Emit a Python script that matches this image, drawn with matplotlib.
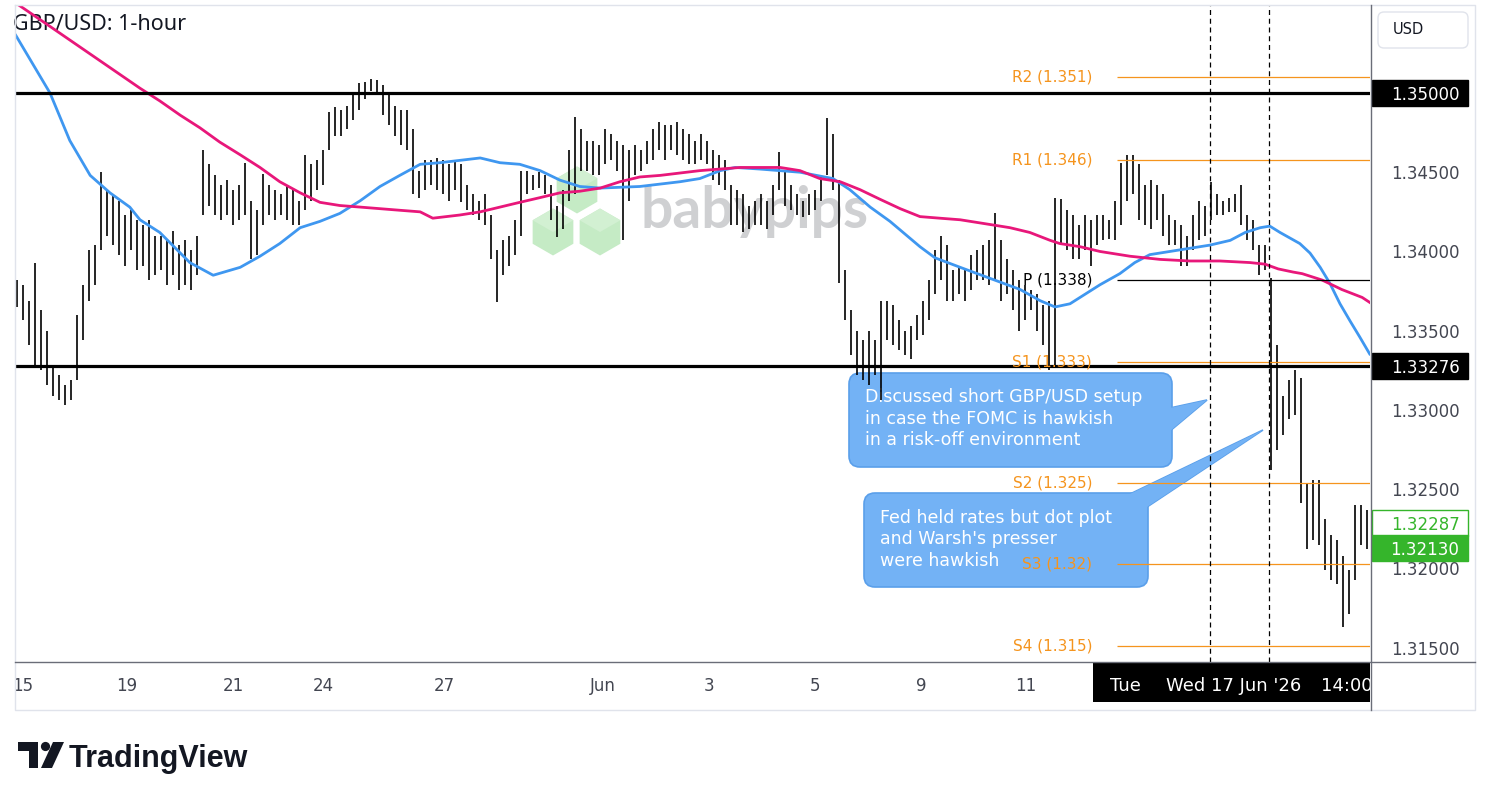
import matplotlib
matplotlib.use("Agg")
import matplotlib.pyplot as plt
import numpy as np
from matplotlib.patches import Rectangle, FancyBboxPatch, Polygon, Circle

# ---------------- data (bar prices in pips above 1.30000) ----------------
BASE = 1.30
bar_high = [382, 379, 369, 393, 363, 350, 328, 322, 316, 319, 360, 379, 401, 404, 450, 439, 436, 432, 423, 426,
            420, 417, 420, 410, 410, 407, 413, 404, 407, 401, 410, 464, 455, 448, 442, 445, 439, 442, 456, 432,
            426, 449, 442, 439, 436, 442, 439, 432, 461, 455, 458, 464, 488, 491, 489, 492, 499, 506, 507, 509,
            508, 505, 499, 492, 489, 489, 477, 451, 458, 458, 459, 458, 455, 458, 455, 442, 436, 432, 436, 423,
            401, 407, 410, 420, 451, 451, 448, 450, 448, 442, 429, 439, 464, 485, 477, 470, 470, 467, 477, 474,
            470, 467, 464, 467, 464, 470, 477, 482, 480, 480, 482, 477, 474, 470, 474, 470, 464, 461, 458, 442,
            439, 436, 429, 432, 436, 432, 442, 463, 451, 442, 436, 432, 436, 439, 448, 484, 474, 445, 388, 363,
            350, 344, 350, 344, 369, 369, 366, 357, 350, 353, 360, 369, 382, 401, 410, 404, 388, 391, 388, 398,
            401, 404, 407, 424, 407, 395, 388, 382, 379, 376, 373, 366, 369, 434, 433, 426, 423, 417, 423, 420,
            423, 423, 420, 432, 456, 461, 461, 455, 442, 445, 442, 436, 423, 420, 417, 410, 423, 432, 429, 444,
            436, 432, 434, 436, 442, 423, 420, 404, 404, 383, 341, 309, 319, 325, 320, 253, 256, 256, 231, 221,
            218, 208, 199, 240, 240, 237]
bar_low = [365, 357, 341, 328, 325, 316, 309, 306, 303, 306, 319, 344, 369, 379, 401, 410, 404, 398, 391, 401,
           388, 391, 382, 385, 388, 379, 385, 376, 379, 376, 385, 423, 429, 423, 420, 423, 417, 420, 423, 395,
           398, 417, 423, 420, 423, 420, 417, 417, 426, 432, 439, 442, 464, 473, 473, 477, 483, 489, 496, 501,
           499, 486, 480, 473, 467, 464, 436, 434, 439, 442, 439, 436, 432, 439, 431, 426, 423, 420, 417, 395,
           368, 385, 391, 398, 410, 436, 439, 440, 436, 420, 409, 414, 432, 436, 451, 451, 448, 448, 455, 458,
           451, 407, 432, 448, 451, 455, 458, 464, 458, 464, 461, 458, 455, 455, 458, 455, 445, 442, 439, 417,
           417, 412, 414, 417, 417, 414, 423, 439, 429, 426, 423, 422, 423, 426, 432, 448, 439, 380, 357, 335,
           322, 319, 316, 322, 306, 344, 341, 338, 335, 332, 344, 347, 357, 373, 382, 369, 369, 373, 369, 376,
           382, 382, 379, 382, 369, 373, 363, 350, 357, 363, 350, 341, 325, 328, 404, 401, 395, 395, 401, 391,
           404, 407, 408, 407, 417, 432, 436, 420, 417, 414, 420, 410, 404, 404, 391, 391, 401, 407, 410, 420,
           423, 423, 425, 425, 417, 407, 401, 385, 388, 262, 275, 284, 294, 297, 241, 212, 218, 215, 199, 193,
           190, 163, 171, 193, 215, 212]

# moving averages, sampled (bar position, pips above 1.30000)
ma100_pos = [-0.3, 5.5, 8.8, 12.2, 15.5, 18.8, 20.5, 23.8, 28.8, 32.7, 37.2, 40.5, 43.8, 47.2, 50.5, 53.8, 57.2,
             60.5, 63.8, 67.2, 70.5, 77.2, 80.5, 83.8, 87.2, 90.5, 93.8, 97.2, 103.8, 110.5, 113.8, 117.2,
             119.7, 123.8, 130.5, 136.0, 138.8, 142.2, 145.5, 150.5, 153.0, 157.2, 162.2, 167.2, 170.5,
             173.0, 175.5, 180.5, 183.8, 186.3, 188.8, 193.8, 198.8, 202.2, 204.7, 207.2, 208.8, 210.5,
             213.8, 215.5, 217.2, 218.8, 220.5, 222.2, 223.8, 225.5]
ma100_pips = [537, 500, 470, 448, 437, 428, 420, 412, 393, 385, 390, 397, 405, 415, 419, 424, 432,
              441, 448, 455, 456, 459, 456, 455, 451, 445, 441, 440, 441, 444, 446, 451,
              453, 452, 450, 446, 439, 428, 419, 403, 396, 390, 383, 376, 369,
              365, 367, 379, 386, 393, 398, 401, 404, 407, 412, 415, 416, 412,
              405, 399, 390, 380, 367, 356, 346, 335]
ma200_pos = [-0.3, 5.5, 10.5, 15.5, 20.5, 23.8, 27.2, 30.5, 33.8, 37.2, 40.5, 43.8, 47.2, 50.5, 53.8,
             57.2, 60.5, 63.8, 67.2, 69.3, 73.8, 77.2, 80.5, 83.8, 87.2, 90.5, 93.8, 97.2, 100.5, 103.8,
             107.2, 113.8, 120.5, 127.2, 130.5, 133.8, 137.2, 140.5, 143.8, 147.2, 150.5, 153.8, 157.2,
             162.2, 165.5, 168.8, 172.2, 173.8, 177.2, 180.5, 185.5, 190.5, 195.5, 200.5, 205.5, 208.0,
             210.2, 212.7, 214.2, 217.5, 220.8, 224.2, 225.8]
ma200_pips = [557, 542, 529, 516, 503, 495, 486, 478, 469, 461, 453, 444, 437, 431, 429,
              428, 427, 426, 425, 421, 423, 425, 428, 431, 434, 437, 438, 440, 444, 447,
              448, 451, 453, 453, 451, 446, 444, 439, 433, 427, 422, 421, 420,
              417, 415, 412, 407, 405, 403, 400, 397, 395, 394, 394, 393, 392,
              389, 387, 386, 382, 376, 371, 367]

sr_levels = [1.35000, 1.33276]
pivot_labels = ["R2 (1.351)", "R1 (1.346)", "P (1.338)", "S1 (1.333)", "S2 (1.325)", "S3 (1.32)", "S4 (1.315)"]
pivot_values = [1.3510, 1.3458, 1.3382, 1.3330, 1.3254, 1.3203, 1.3151]
pivot_start = 183.3
price_ticks = [1.345, 1.340, 1.335, 1.330, 1.325, 1.320, 1.315]
date_labels = ["15", "19", "21", "24", "27", "Jun", "3", "5", "9", "11"]
date_pos = [0.9, 18.3, 36.0, 51.0, 71.3, 97.7, 115.3, 133.0, 150.7, 168.2]
cross_labels = ["Tue", "Wed 17 Jun '26", "14:00"]
cross_pos = [184.7, 202.7, 221.6]
event_pos = [198.8, 208.7]
last_price = 1.32287
last_low = 1.32130

# ---------------- figure ----------------
W, H = 1491, 800
fig = plt.figure(figsize=(W / 100, H / 100), dpi=100, facecolor="white")
ax = fig.add_axes([15 / W, (H - 662) / H, (1370 - 15) / W, (662 - 5) / H])
ov = fig.add_axes([0, 0, 1, 1], zorder=5)
ov.set_xlim(0, W)
ov.set_ylim(H, 0)
ov.axis("off")
ov.patch.set_alpha(0)
P = ov.transData  # pixel coordinates

ax.set_xlim(-0.33, 225.5)
ax.set_ylim(1.31410, 1.35555)
ax.set_xticks([])
ax.set_yticks([])
for s in ax.spines.values():
    s.set_visible(False)
ax.set_facecolor("white")

idx = np.arange(len(bar_high))
highs = BASE + np.array(bar_high) / 10000.0
lows = BASE + np.array(bar_low) / 10000.0

# title (under the moving averages, like the reference)
ax.text(13, 25, "GBP/USD: 1-hour", transform=P, ha="left", va="center", fontsize=15.5,
        family=["Noto Sans", "DejaVu Sans"], color="#131722", zorder=0.4, clip_on=False)

# watermark (babypips)
cubes = [(577, 190), (553, 232), (600, 232)]
r = 23.5
for cx, cy in cubes:
    hexv = [(cx, cy - r), (cx + 0.866 * r, cy - 0.5 * r), (cx + 0.866 * r, cy + 0.5 * r),
            (cx, cy + r), (cx - 0.866 * r, cy + 0.5 * r), (cx - 0.866 * r, cy - 0.5 * r)]
    ax.add_patch(Polygon(hexv, closed=True, transform=P, fc="#c5ebc5", ec="none", zorder=0.5, clip_on=False))
    topv = [(cx, cy - r), (cx + 0.866 * r, cy - 0.5 * r), (cx, cy), (cx - 0.866 * r, cy - 0.5 * r)]
    ax.add_patch(Polygon(topv, closed=True, transform=P, fc="#d2f0d2", ec="none", zorder=0.6, clip_on=False))
ax.text(640, 228, "babypips", transform=P, fontsize=41, fontweight="bold", family=["Lato", "DejaVu Sans"],
        color="#cfd0d2", va="baseline", ha="left", zorder=0.7)

# callouts
blue_fc = "#73b2f5"
blue_ec = "#5a9fea"
def callout(x, y, w, h, tri, lines, tx, ty0, dy):
    ax.add_patch(Polygon(tri, closed=True, transform=P, fc=blue_fc, ec=blue_ec, lw=1.2, zorder=1.5, clip_on=False))
    ax.add_patch(FancyBboxPatch((x, y), w, h, boxstyle="round,pad=0,rounding_size=11", transform=P,
                                fc=blue_fc, ec=blue_ec, lw=1.2, zorder=1.55, clip_on=False))
    ax.add_patch(Polygon(tri, closed=True, transform=P, fc=blue_fc, ec="none", zorder=1.6, clip_on=False))
    for k, line in enumerate(lines):
        ax.text(tx, ty0 + k * dy, line, transform=P, color="white", fontsize=12.5, va="center", ha="left",
                zorder=1.7)

callout(849, 373, 323, 94, [(1170, 408), (1207, 400), (1170, 431)],
        ["Discussed short GBP/USD setup", "in case the FOMC is hawkish", "in a risk-off environment"],
        865, 397, 21.5)
callout(864, 493, 284, 94, [(1130, 494), (1263, 430), (1147, 507)],
        ["Fed held rates but dot plot", "and Warsh's presser", "were hawkish"],
        880, 518, 21.5)

# bars
ax.vlines(idx, lows, highs, color="black", linewidth=1.2, zorder=2)

# moving averages
ax.plot(ma100_pos, BASE + np.array(ma100_pips) / 10000.0, color="#3f97f0", lw=2.0, zorder=3,
        solid_joinstyle="round", solid_capstyle="round")
ax.plot(ma200_pos, BASE + np.array(ma200_pips) / 10000.0, color="#e8177a", lw=2.0, zorder=3,
        solid_joinstyle="round", solid_capstyle="round")

# pivot levels
orange = "#f5941d"
for lab, val in zip(pivot_labels, pivot_values):
    col = "black" if lab.startswith("P ") else orange
    ax.hlines(val, pivot_start, 225.5, colors=col, lw=0.9, zorder=3.5)
    ax.text(179.2, val, lab, ha="right", va="center", color=col, fontsize=11, zorder=7)

# support / resistance
for lv in sr_levels:
    ax.axhline(lv, color="black", lw=2.3, zorder=4)

# event lines
for ev in event_pos:
    ax.axvline(ev, color="black", lw=0.9, ls=(0, (4, 3)), zorder=4)

# ---------------- price scale ----------------
yt = ax.get_yaxis_transform()
for t in price_ticks:
    ax.text(1.0406, t, f"{t:.5f}", transform=yt, ha="center", va="center_baseline", fontsize=12,
            color="#434651", clip_on=False)

def price_box(price, fc, ec, tc):
    h = 0.00164
    ax.add_patch(Rectangle((1.0015, price - h / 2), 0.0708, h, transform=yt, fc=fc, ec=ec, lw=1,
                           clip_on=False, zorder=10))
    ax.text(1.0406, price, f"{price:.5f}", transform=yt, ha="center", va="center_baseline", color=tc,
            fontsize=12, zorder=11, clip_on=False)

for lv in sr_levels:
    price_box(lv, "black", "black", "white")
green = "#35b52b"
price_box(last_price, "white", green, green)
price_box(last_low, green, green, "white")

# ---------------- time scale ----------------
xt = ax.get_xaxis_transform()
for lab, pos in zip(date_labels, date_pos):
    ax.text(pos, -0.0365, lab, transform=xt, ha="center", va="center", fontsize=12, color="#434651",
            zorder=3, clip_on=False)
ax.add_patch(Rectangle((179.3, -0.061), 225.5 - 179.3, 0.061, transform=xt, fc="black", ec="none",
                       clip_on=False, zorder=5))
for lab, pos in zip(cross_labels, cross_pos):
    ax.text(pos, -0.0365, lab, transform=xt, ha="center", va="center", fontsize=13, color="white",
            zorder=6, clip_on=False)

# ---------------- frame & chrome ----------------
# masks so that time labels are cut at the pane edges
ov.add_patch(Rectangle((0, 663), 14.5, 46, fc="white", ec="none"))
ov.add_patch(Rectangle((1371, 663), 104, 46, fc="white", ec="none"))
ov.plot([15, 1475, 1475, 15, 15], [5, 5, 710, 710, 5], color="#e0e3eb", lw=1.0)
ov.plot([1370.5, 1370.5], [5, 710], color="#6a6d78", lw=1.0)
ov.plot([15, 1475], [662, 662], color="#6a6d78", lw=1.0)
ov.add_patch(FancyBboxPatch((1378, 12), 90, 36, boxstyle="round,pad=0,rounding_size=6", fc="white",
                            ec="#e0e3eb", lw=1.0))
ov.text(1393, 30, "USD", ha="left", va="center", fontsize=10.5, color="#131722")

# TradingView logo
ov.add_patch(Polygon([(18, 742), (38, 742), (38, 768), (29, 768), (29, 751), (18, 751)], closed=True,
                     fc="#131722", ec="none"))
ov.add_patch(Circle((45.5, 746.5), 4.6, fc="#131722", ec="none"))
ov.add_patch(Polygon([(53, 742), (64, 742), (52, 768), (41, 768)], closed=True, fc="#131722", ec="none"))
ov.text(69, 767, "TradingView", ha="left", va="baseline", fontsize=22, fontweight="bold",
        family=["Liberation Sans", "DejaVu Sans"], color="#131722")

fig.savefig("out.png", dpi=100, facecolor="white")
